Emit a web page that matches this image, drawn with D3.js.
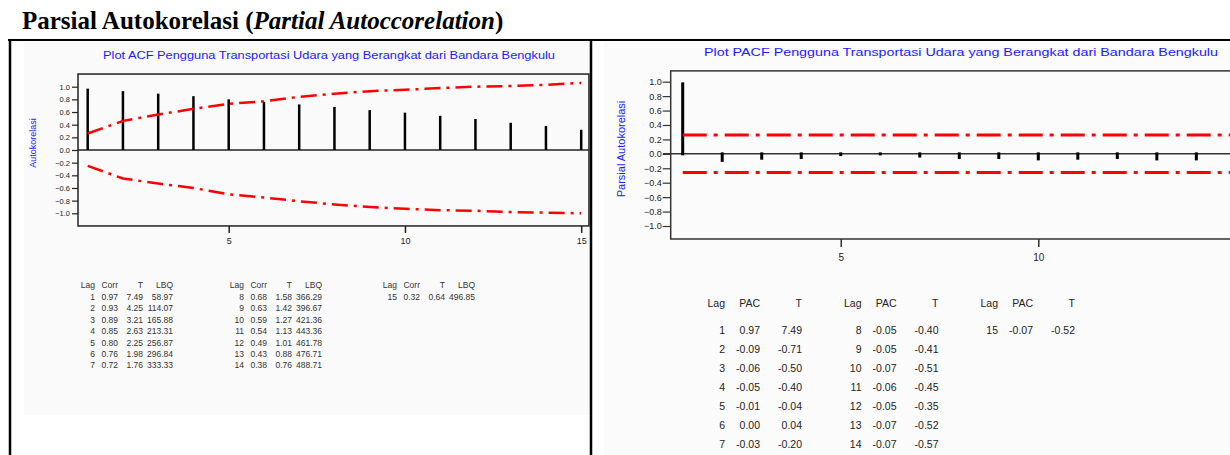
<!DOCTYPE html>
<html>
<head>
<meta charset="utf-8">
<script src="https://cdn.jsdelivr.net/npm/d3@7"></script>
<style>
  body { margin: 0; background: #fff; }
  svg { display: block; }
  text { font-family: "Liberation Sans", Arial, sans-serif; }
</style>
</head>
<body>
<div id="chart"></div>
<script>
// lags shared by both panels
var lags = [1,2,3,4,5,6,7,8,9,10,11,12,13,14,15];

// ACF output (Minitab)
var acfCorr = [0.97,0.93,0.89,0.85,0.80,0.76,0.72,0.68,0.63,0.59,0.54,0.49,0.43,0.38,0.32];
var acfT    = [7.49,4.25,3.21,2.63,2.25,1.98,1.76,1.58,1.42,1.27,1.13,1.01,0.88,0.76,0.64];
var acfLBQ  = [58.97,114.07,165.88,213.31,256.87,296.84,333.33,366.29,396.67,421.36,443.36,461.78,476.71,488.71,496.85];
// ACF confidence limits
var acfUpper = [0.26,0.46,0.56,0.65,0.73,0.77,0.84,0.89,0.93,0.95,0.98,1.00,1.01,1.03,1.06];
var acfLower = [-0.25,-0.45,-0.53,-0.60,-0.70,-0.75,-0.81,-0.86,-0.90,-0.93,-0.95,-0.96,-0.98,-0.99,-1.00];

// PACF output
var pacfVal = [0.97,-0.09,-0.06,-0.05,-0.01,0.00,-0.03,-0.05,-0.05,-0.07,-0.06,-0.05,-0.07,-0.07,-0.07];
var pacfT   = [7.49,-0.71,-0.50,-0.40,-0.04,0.04,-0.20,-0.40,-0.41,-0.51,-0.45,-0.35,-0.52,-0.57,-0.52];
var pacfLimit = 0.26;

var yTicks = [1.0,0.8,0.6,0.4,0.2,0.0,-0.2,-0.4,-0.6,-0.8,-1.0];
var acfXTicks = [5,10,15];
var pacfXTicks = [5,10];

var svg = d3.select("#chart").append("svg")
    .attr("width", 1230)
    .attr("height", 455);

// heading
var head = svg.append("text")
    .attr("x", 22).attr("y", 29)
    .style("font-family", "'Liberation Serif', 'Times New Roman', serif")
    .style("font-size", "25px")
    .style("font-weight", "bold");
head.append("tspan").text("Parsial Autokorelasi (");
head.append("tspan").style("font-style", "italic").text("Partial Autoccorelation");
head.append("tspan").text(")");

// faint image backgrounds
svg.append("rect").attr("x", 24).attr("y", 42).attr("width", 566).attr("height", 373).attr("fill", "#fafafa");
svg.append("rect").attr("x", 604).attr("y", 42).attr("width", 626).attr("height", 413).attr("fill", "#fbfbfb");

// table borders
svg.append("line").attr("x1", 8).attr("x2", 1230).attr("y1", 40).attr("y2", 40)
    .attr("stroke", "#000").attr("stroke-width", 2);
svg.append("line").attr("x1", 10).attr("x2", 10).attr("y1", 39).attr("y2", 455)
    .attr("stroke", "#000").attr("stroke-width", 2.5);
svg.append("line").attr("x1", 591).attr("x2", 591).attr("y1", 39).attr("y2", 455)
    .attr("stroke", "#000").attr("stroke-width", 2.5);

drawAcf();
drawPacf();

function drawAcf(){
  var x = d3.scaleLinear().domain([1, 15]).range([87.7, 581.2]);
  var y = d3.scaleLinear().domain([-1, 1]).range([213.3, 86.7]);
  var left = x(0.725), right = x(15.22), top = y(1.2), bottom = y(-1.2);
  var g = svg.append("g");

  g.append("text")
      .attr("x", 103).attr("y", 59)
      .attr("textLength", 452).attr("lengthAdjust", "spacingAndGlyphs")
      .attr("fill", "#1a1aff").style("font-size", "11px")
      .text("Plot ACF Pengguna Transportasi Udara yang Berangkat dari Bandara Bengkulu");

  g.append("rect")
      .attr("x", left).attr("y", top)
      .attr("width", right - left).attr("height", bottom - top)
      .attr("fill", "none").attr("stroke", "#222").attr("stroke-width", 1.5);

  var ya = g.append("g")
      .attr("transform", "translate(" + left + ",0)")
      .call(d3.axisLeft(y).tickValues(yTicks).tickFormat(d3.format(".1f")).tickSize(6).tickPadding(2));
  ya.select(".domain").remove();
  ya.selectAll("line").attr("stroke", "#222").attr("stroke-width", 1.2);
  ya.selectAll("text").style("font-size", "7.5px").attr("fill", "#222")
      .style("font-family", "'Liberation Sans', Arial, sans-serif");

  var xa = g.append("g")
      .attr("transform", "translate(0," + bottom + ")")
      .call(d3.axisBottom(x).tickValues(acfXTicks).tickSize(7).tickPadding(5));
  xa.select(".domain").remove();
  xa.selectAll("line").attr("stroke", "#222").attr("stroke-width", 1.5);
  xa.selectAll("text").style("font-size", "9px").attr("fill", "#222")
      .style("font-family", "'Liberation Sans', Arial, sans-serif");

  g.append("text")
      .attr("transform", "translate(36," + 143 + ") rotate(-90)")
      .attr("text-anchor", "middle")
      .attr("fill", "#1a1aff").style("font-size", "9px")
      .text("Autokorelasi");

  g.append("line")
      .attr("x1", left).attr("x2", right).attr("y1", y(0)).attr("y2", y(0))
      .attr("stroke", "#222").attr("stroke-width", 1.5);

  g.selectAll(".bar").data(acfCorr).enter().append("line")
      .attr("class", "bar")
      .attr("x1", function(d, i){ return x(lags[i]); })
      .attr("x2", function(d, i){ return x(lags[i]); })
      .attr("y1", y(0))
      .attr("y2", function(d){ return y(d); })
      .attr("stroke", "#000").attr("stroke-width", 2.5);

  var line = d3.line()
      .x(function(d, i){ return x(lags[i]); })
      .y(function(d){ return y(d); });
  [acfUpper, acfLower].forEach(function(s){
    g.append("path").datum(s)
        .attr("d", line)
        .attr("fill", "none")
        .attr("stroke", "#ff0000").attr("stroke-width", 2.5)
        .attr("stroke-dasharray", "16,6,3,6");
  });

  // session table
  var t = svg.append("g").style("font-size", "8.5px").attr("fill", "#333");
  var groups = [[0,7],[7,14],[14,15]];
  var gx = [83, 232, 385];
  var cols = [
    {name: "Lag", dx: 12, f: function(i){ return lags[i]; }},
    {name: "Corr", dx: 35, f: function(i){ return acfCorr[i].toFixed(2); }},
    {name: "T", dx: 60, f: function(i){ return acfT[i].toFixed(2); }},
    {name: "LBQ", dx: 90, f: function(i){ return acfLBQ[i].toFixed(2); }}
  ];
  groups.forEach(function(rg, k){
    cols.forEach(function(c){
      t.append("text").attr("x", gx[k] + c.dx).attr("y", 288)
          .attr("text-anchor", "end").text(c.name);
      d3.range(rg[0], rg[1]).forEach(function(i, r){
        t.append("text").attr("x", gx[k] + c.dx).attr("y", 300 + r * 11.4)
            .attr("text-anchor", "end").text(c.f(i));
      });
    });
  });
}

function drawPacf(){
  var x = d3.scaleLinear().domain([1, 10]).range([682.7, 1038.3]);
  var y = d3.scaleLinear().domain([-1, 1]).range([226, 81.7]);
  var left = 670.7, right = 1240, top = y(1.15), bottom = y(-1.18);
  var g = svg.append("g");

  g.append("text")
      .attr("x", 704).attr("y", 56)
      .attr("textLength", 514).attr("lengthAdjust", "spacingAndGlyphs")
      .attr("fill", "#1a1aff").style("font-size", "11.5px")
      .text("Plot PACF Pengguna Transportasi Udara yang Berangkat dari Bandara Bengkulu");

  g.append("rect")
      .attr("x", left).attr("y", top)
      .attr("width", right - left).attr("height", bottom - top)
      .attr("fill", "none").attr("stroke", "#333").attr("stroke-width", 1.5);

  var ya = g.append("g")
      .attr("transform", "translate(" + left + ",0)")
      .call(d3.axisLeft(y).tickValues(yTicks).tickFormat(d3.format(".1f")).tickSize(8).tickPadding(1));
  ya.select(".domain").remove();
  ya.selectAll("line").attr("stroke", "#333").attr("stroke-width", 1.2);
  ya.selectAll("text").style("font-size", "9px").attr("fill", "#222")
      .style("font-family", "'Liberation Sans', Arial, sans-serif");

  var xa = g.append("g")
      .attr("transform", "translate(0," + bottom + ")")
      .call(d3.axisBottom(x).tickValues(pacfXTicks).tickSize(8).tickPadding(7));
  xa.select(".domain").remove();
  xa.selectAll("line").attr("stroke", "#333").attr("stroke-width", 1.5);
  xa.selectAll("text").style("font-size", "10px").attr("fill", "#222")
      .style("font-family", "'Liberation Sans', Arial, sans-serif");

  g.append("text")
      .attr("transform", "translate(625," + 149 + ") rotate(-90)")
      .attr("text-anchor", "middle")
      .attr("fill", "#1a1aff").style("font-size", "11px")
      .text("Parsial Autokorelasi");

  g.append("line")
      .attr("x1", 663).attr("x2", right).attr("y1", y(0)).attr("y2", y(0))
      .attr("stroke", "#333").attr("stroke-width", 1.5);

  g.selectAll(".bar").data(pacfVal).enter().append("line")
      .attr("class", "bar")
      .attr("x1", function(d, i){ return x(lags[i]); })
      .attr("x2", function(d, i){ return x(lags[i]); })
      .attr("y1", y(0))
      .attr("y2", function(d){ return y(d); })
      .attr("stroke", "#000").attr("stroke-width", 3)
      .attr("stroke-linecap", "square");

  [pacfLimit, -pacfLimit].forEach(function(v){
    g.append("line")
        .attr("x1", x(1)).attr("x2", right).attr("y1", y(v)).attr("y2", y(v))
        .attr("stroke", "#ff0000").attr("stroke-width", 3)
        .attr("stroke-dasharray", "24,7,4,7");
  });

  var t = svg.append("g").style("font-size", "10.5px").attr("fill", "#222");
  var groups = [[0,7],[7,14],[14,15]];
  var gx = [706, 842.5, 979];
  var cols = [
    {name: "Lag", dx: 19, f: function(i){ return lags[i]; }},
    {name: "PAC", dx: 54, f: function(i){ return pacfVal[i].toFixed(2); }},
    {name: "T", dx: 96, f: function(i){ return pacfT[i].toFixed(2); }}
  ];
  groups.forEach(function(rg, k){
    cols.forEach(function(c){
      t.append("text").attr("x", gx[k] + c.dx).attr("y", 307)
          .attr("text-anchor", "end").text(c.name);
      d3.range(rg[0], rg[1]).forEach(function(i, r){
        t.append("text").attr("x", gx[k] + c.dx).attr("y", 334 + r * 19)
            .attr("text-anchor", "end").text(c.f(i));
      });
    });
  });
}
</script>
</body>
</html>
